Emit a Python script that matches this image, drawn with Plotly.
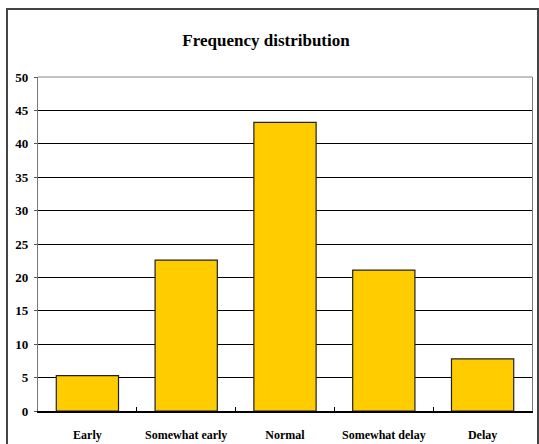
import plotly.graph_objects as go

# Frequency counts per timing category
categories = ["Early", "Somewhat early", "Normal", "Somewhat delay", "Delay"]
frequencies = [5.3, 22.6, 43.2, 21.1, 7.8]
y_ticks = [0, 5, 10, 15, 20, 25, 30, 35, 40, 45, 50]

W, H = 539, 444
L, R, T, B = 38, 7, 77, 33
pw, ph = W - L - R, H - T - B

def px_x(px):
    return (px - L) / pw

def px_y(py):
    return (H - B - py) / ph

serif = "Liberation Serif, Times New Roman, serif"

fig = go.Figure(
    go.Bar(
        x=categories,
        y=frequencies,
        marker=dict(color="#FFCC00", line=dict(color="#222222", width=1.2)),
        hoverinfo="x+y",
    )
)

fig.update_layout(
    width=W,
    height=H,
    margin=dict(l=L, r=R, t=T, b=B, autoexpand=False),
    paper_bgcolor="white",
    plot_bgcolor="white",
    bargap=0.37,
    showlegend=False,
    title=dict(
        text="<b>Frequency distribution</b>",
        x=266 / W,
        xanchor="center",
        y=1 - 40 / H,
        yanchor="middle",
        font=dict(family=serif, size=17, color="black"),
    ),
    xaxis=dict(
        type="category",
        automargin=False,
        showline=True,
        linecolor="black",
        linewidth=1.5,
        ticks="inside",
        tickson="boundaries",
        ticklen=4,
        tickcolor="black",
        tickwidth=1,
        showgrid=False,
        ticklabelstandoff=12,
        tickfont=dict(family=serif, size=12, color="black", weight="bold"),
    ),
    yaxis=dict(
        range=[0, 50],
        tickvals=y_ticks,
        automargin=False,
        showline=True,
        linecolor="#777777",
        linewidth=1.2,
        mirror=True,
        ticks="outside",
        ticklen=3,
        tickcolor="#555555",
        showgrid=True,
        gridcolor="black",
        gridwidth=1.3,
        zeroline=False,
        ticklabelstandoff=3,
        tickfont=dict(family=serif, size=13, color="black", weight="bold"),
    ),
    shapes=[
        # thin grey frame line along the top of the plot area
        dict(type="line", xref="paper", yref="paper", x0=0, x1=1, y0=1, y1=1,
             line=dict(color="#888888", width=1.2), layer="above"),
        # outer chart border
        dict(type="rect", xref="paper", yref="paper",
             x0=px_x(7), x1=px_x(538), y0=px_y(448), y1=px_y(9),
             line=dict(color="#444444", width=2), fillcolor="rgba(0,0,0,0)"),
    ],
)

fig.write_html("out.html")
